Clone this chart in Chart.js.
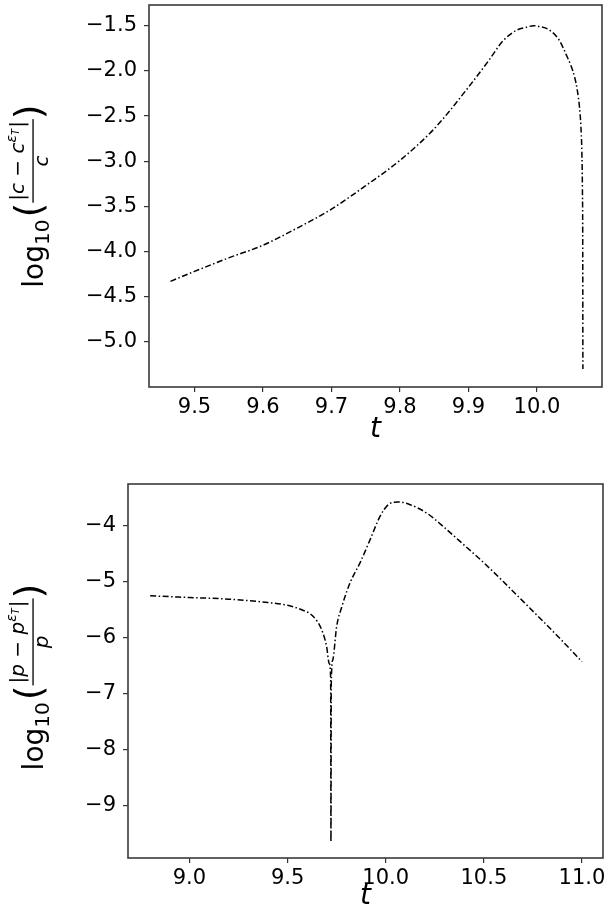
<!DOCTYPE html>
<html>
<head>
<meta charset="utf-8">
<script src="https://cdn.jsdelivr.net/npm/chart.js@4.4.1/dist/chart.umd.min.js"></script>
<style>
  html, body { margin: 0; padding: 0; background: #fff; }
  #wrap { position: relative; width: 609px; height: 920px; overflow: hidden; }
  canvas { position: absolute; left: 0; }
</style>
</head>
<body>
<div id="wrap">
  <canvas id="c1" width="609" height="440" style="top:0px"></canvas>
  <canvas id="c2" width="609" height="480" style="top:440px"></canvas>
</div>
<script>
// ---------- data ----------
const tTop = [9.465, 9.5, 9.55, 9.6, 9.65, 9.7, 9.75, 9.8, 9.85, 9.9, 9.93, 9.95, 9.97, 9.985, 9.995,
              10.005, 10.0175, 10.032, 10.045, 10.05, 10.055, 10.059, 10.062, 10.064, 10.0655, 10.0663, 10.0668, 10.067];
const vTop = [-4.33, -4.22, -4.07, -3.93, -3.74, -3.53, -3.27, -2.99, -2.64, -2.18, -1.88, -1.67, -1.55, -1.515, -1.50,
              -1.51, -1.544, -1.655, -1.86, -1.95, -2.07, -2.22, -2.40, -2.60, -2.90, -3.30, -4.0, -5.30];

const tBot = [8.8, 9.0, 9.2, 9.4, 9.5, 9.572, 9.631, 9.674, 9.699, 9.712, 9.7195, 9.721, 9.7225, 9.730,
              9.750, 9.776, 9.818, 9.869, 9.920, 9.971, 10.013, 10.064, 10.124, 10.209, 10.293, 10.370,
              10.5, 10.6, 10.7, 10.8, 10.9, 11.0];
const vBot = [-5.25, -5.28, -5.31, -5.37, -5.42, -5.50, -5.62, -5.86, -6.16, -6.46, -6.72, -9.65, -6.85, -6.40,
              -5.80, -5.45, -5.02, -4.66, -4.25, -3.83, -3.62, -3.57, -3.62, -3.77, -4.01, -4.25,
              -4.66, -5.00, -5.35, -5.70, -6.06, -6.43];

const xTicksTop = [9.5, 9.6, 9.7, 9.8, 9.9, 10.0];
const yTicksTop = [-1.5, -2.0, -2.5, -3.0, -3.5, -4.0, -4.5, -5.0];
const xTicksBot = [9.0, 9.5, 10.0, 10.5, 11.0];
const yTicksBot = [-4, -5, -6, -7, -8, -9];

const FONT = 'DejaVu Sans';

function fmt(v, d) { return v.toFixed(d).replace('-', '\u2212'); }

// mathtext-like y label: log10( |s - s^{eps_T}| / s )
function drawYLabel(ctx, cx, cy, sym) {
  ctx.save();
  ctx.translate(cx, cy);
  ctx.rotate(-Math.PI / 2);
  ctx.fillStyle = '#000';
  ctx.textBaseline = 'alphabetic';
  ctx.textAlign = 'left';
  const M = 28, S = 20, SS = 14, SSS = 10, P = 38;
  const up = sz => `${sz}px "${FONT}"`;
  const it = sz => `italic ${sz}px "${FONT}"`;
  const w = (t, f) => { ctx.font = f; return ctx.measureText(t).width; };
  const num = [
    ['|', up(S), 0],
    [sym, it(S), 0],
    [' \u2212 ', up(S), 0],
    [sym, it(S), 0],
    ['\u03b5', it(SS), -8],
    ['T', it(SSS), -5],
    ['|', up(S), 0]
  ];
  let numW = 0; num.forEach(p => numW += w(p[0], p[1]) + (p[0] === 'T' ? 1 : 0));
  const fracW = numW + 4;
  const wLog = w('log', up(M)), w10 = w('10', up(S)), wP = w('(', up(P)), wQ = w(')', up(P));
  const total = wLog + w10 + 2 + wP + fracW + wQ;
  let x = -total / 2;
  ctx.font = up(M); ctx.fillText('log', x, 0); x += wLog;
  ctx.font = up(S); ctx.fillText('10', x, 6); x += w10 + 2;
  ctx.font = up(P); ctx.fillText('(', x, -2); x += wP;
  let nx = x + (fracW - numW) / 2;
  const nb = -19;
  num.forEach(p => {
    ctx.font = p[1];
    ctx.fillText(p[0], nx, nb + p[2]);
    nx += ctx.measureText(p[0]).width + (p[0] === 'T' ? 1 : 0);
  });
  ctx.fillRect(x, -10.6, fracW, 1.3);
  const dw = w(sym, it(S));
  ctx.font = it(S); ctx.fillText(sym, x + (fracW - dw) / 2, 5);
  x += fracW;
  ctx.font = up(P); ctx.fillText(')', x, -2);
  ctx.restore();
}

function frame(ctx, a) {
  ctx.save();
  ctx.strokeStyle = '#3a3a3a';
  ctx.lineWidth = 1.6;
  ctx.strokeRect(a.left, a.top, a.right - a.left, a.bottom - a.top);
  ctx.restore();
}

function makeChart(id, cfg) {
  const pts = cfg.t.map((t, i) => ({ x: t, y: cfg.v[i] }));
  const labelPlugin = {
    id: 'labels' + id,
    afterDatasetsDraw(chart) {
      const ctx = chart.ctx, a = chart.chartArea;
      frame(ctx, a);
      drawYLabel(ctx, cfg.ylabX, (a.top + a.bottom) / 2 + cfg.ylabDy, cfg.sym);
      ctx.save();
      ctx.fillStyle = '#000';
      ctx.font = `italic 28px "${FONT}"`;
      ctx.textAlign = 'center';
      ctx.textBaseline = 'alphabetic';
      ctx.fillText('t', (a.left + a.right) / 2, cfg.tY);
      ctx.restore();
    }
  };
  return new Chart(document.getElementById(id), {
    type: 'scatter',
    data: {
      datasets: [{
        data: pts,
        showLine: true,
        borderColor: '#000',
        borderWidth: 1.5,
        borderDash: [6, 2.5, 1.5, 2.5],
        pointRadius: 0,
        cubicInterpolationMode: 'monotone',
        fill: false
      }]
    },
    options: {
      responsive: false,
      animation: false,
      devicePixelRatio: 1,
      layout: { padding: cfg.pad },
      plugins: { legend: { display: false }, tooltip: { enabled: false } },
      scales: {
        x: {
          type: 'linear', min: cfg.xmin, max: cfg.xmax,
          afterBuildTicks: s => { s.ticks = cfg.xt.map(v => ({ value: v })); },
          afterFit: s => { s.height = cfg.xh; s.paddingLeft = 0; s.paddingRight = 0; s.paddingTop = 0; s.paddingBottom = 0; },
          ticks: { callback: v => fmt(v, 1), font: { family: FONT, size: 21 }, color: '#000',
                   padding: 3, maxRotation: 0, autoSkip: false },
          grid: { drawOnChartArea: false, drawTicks: true, tickLength: 5, color: '#333', lineWidth: 1.2 },
          border: { display: false }
        },
        y: {
          type: 'linear', min: cfg.ymin, max: cfg.ymax,
          afterBuildTicks: s => { s.ticks = cfg.yt.map(v => ({ value: v })); },
          afterFit: s => { s.width = cfg.yw; s.paddingLeft = 0; s.paddingRight = 0; s.paddingTop = 0; s.paddingBottom = 0; },
          ticks: { callback: v => fmt(v, cfg.yd), font: { family: FONT, size: 21 }, color: '#000',
                   padding: 7, autoSkip: false },
          grid: { drawOnChartArea: false, drawTicks: true, tickLength: 5, color: '#333', lineWidth: 1.2 },
          border: { display: false }
        }
      }
    },
    plugins: [labelPlugin]
  });
}

makeChart('c1', {
  t: tTop, v: vTop, xt: xTicksTop, yt: yTicksTop, yd: 1,
  xmin: 9.4336, xmax: 10.0949, ymin: -5.50, ymax: -1.27,
  pad: { top: 5, right: 7, left: 0, bottom: 0 }, yw: 149, xh: 53,
  ylabX: 43, ylabDy: 0, tY: 437, sym: 'c'
});
makeChart('c2', {
  t: tBot, v: vBot, xt: xTicksBot, yt: yTicksBot, yd: 0,
  xmin: 8.687, xmax: 11.107, ymin: -9.94, ymax: -3.25,
  pad: { top: 44, right: 6, left: 0, bottom: 0 }, yw: 128, xh: 62,
  ylabX: 43, ylabDy: 6, tY: 464, sym: 'p'
});
</script>
</body>
</html>
